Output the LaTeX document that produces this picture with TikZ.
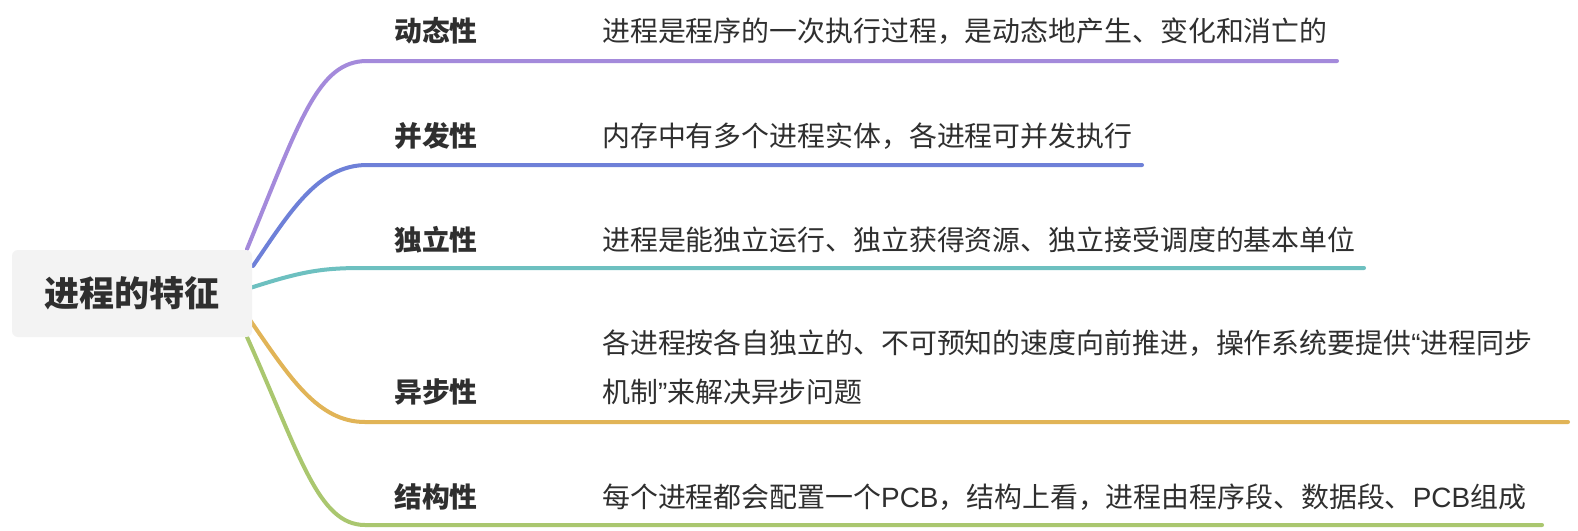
\documentclass[tikz,border=0pt]{standalone}
\usepackage{fontspec}
\setmainfont{Noto Sans CJK SC}
\newfontfamily\lat{Liberation Sans}
\definecolor{cpurple}{HTML}{A48ADB}
\definecolor{cblue}{HTML}{6E80D8}
\definecolor{cteal}{HTML}{6DC0C0}
\definecolor{corange}{HTML}{E1B457}
\definecolor{cgreen}{HTML}{AAC76F}
\definecolor{rootfill}{HTML}{F3F3F3}
\definecolor{txt}{HTML}{2F2F2F}
\begin{document}
\begin{tikzpicture}[x=1pt,y=-1pt,
  branch/.style={line width=4pt, line cap=round},
  rootbox/.style={fill=rootfill, rounded corners=6pt, minimum width=240pt, minimum height=87pt, inner sep=0pt, text=txt, font=\fontsize{35}{40}\selectfont\bfseries},
  lab/.style={anchor=west, inner sep=0pt, text=txt, font=\fontsize{27.8}{32}\selectfont\bfseries},
  desc/.style={anchor=west, inner sep=0pt, text=txt, font=\fontsize{27.9}{32}\selectfont}]
\useasboundingbox (0,0) rectangle (1578,530);
\fill[white] (0,0) rectangle (1578,530);
% branch points
\coordinate (s1) at (247,249); \coordinate (e1) at (1337,61);
\coordinate (s2) at (253,266); \coordinate (e2) at (1142,165);
\coordinate (s3) at (250,288); \coordinate (e3) at (1364,268);
\coordinate (s4) at (250,320); \coordinate (e4) at (1568,422);
\coordinate (s5) at (247,337); \coordinate (e5) at (1542,525);
\draw[branch, cpurple] (s1) .. controls (300,120) and (318,61) .. (367,61) -- (e1);
\draw[branch, cblue] (s2) .. controls (290,212) and (318,165) .. (367,165) -- (e2);
\draw[branch, cteal] (s3) .. controls (300,272) and (320,268) .. (362,268) -- (e3);
\draw[branch, corange] (s4) .. controls (290,378) and (318,422) .. (365,422) -- (e4);
\draw[branch, cgreen] (s5) .. controls (300,455) and (318,525) .. (365,525) -- (e5);
\node[rootbox] (root) at (132,293.5) {进程的特征};
\node[lab] (l1) at (394,31) {动态性};
\node[lab] (l2) at (394,136) {并发性};
\node[lab] (l3) at (394,240) {独立性};
\node[lab] (l4) at (394,392) {异步性};
\node[lab] (l5) at (394,497) {结构性};
\node[desc] (d1) at (602,31) {进程是程序的一次执行过程，是动态地产生、变化和消亡的};
\node[desc] (d2) at (602,136) {内存中有多个进程实体，各进程可并发执行};
\node[desc] (d3) at (602,240) {进程是能独立运行、独立获得资源、独立接受调度的基本单位};
\node[desc] (d4a) at (602,343) {各进程按各自独立的、不可预知的速度向前推进，操作系统要提供{\lat “}进程同步};
\node[desc] (d4b) at (602,392) {机制{\lat ”}来解决异步问题};
\node[desc] (d5) at (602,497) {每个进程都会配置一个{\lat PCB}，结构上看，进程由程序段、数据段、{\lat PCB}组成};
\end{tikzpicture}
\end{document}
